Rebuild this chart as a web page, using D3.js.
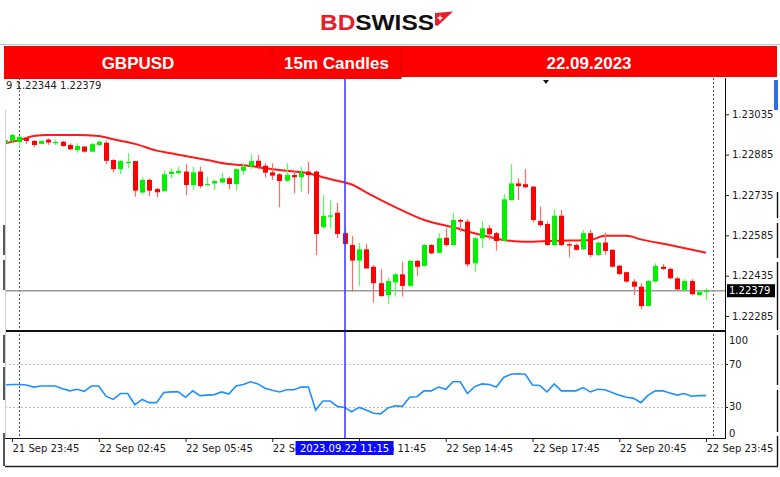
<!DOCTYPE html>
<html><head><meta charset="utf-8">
<script src="https://cdn.jsdelivr.net/npm/d3@7"></script>
<style>body{margin:0;background:#fff}svg{display:block}</style>
</head><body>
<svg id="c" width="780" height="477"></svg>
<script>
// ---------------- DATA ----------------
const symbol = "GBPUSD";
const timeframe = "15m Candles";
const dateText = "22.09.2023";
const infoText = "9 1.22344 1.22379";
const firstIndex = -1; // candle index of first value (0 = 21 Sep 23:45)
const open  = [1.22928,1.22936,1.22932,1.22947,1.22936,1.22925,1.22941,1.22928,1.22933,1.22921,1.22902,1.22915,1.22896,1.22921,1.22929,1.22865,1.22831,1.22854,1.22861,1.22744,1.22791,1.22757,1.22750,1.22813,1.22816,1.22822,1.22772,1.22822,1.22772,1.22778,1.22781,1.22797,1.22776,1.22825,1.22843,1.22862,1.22844,1.22819,1.22812,1.22788,1.22809,1.22801,1.22822,1.22822,1.22615,1.22654,1.22669,1.22593,1.22549,1.22491,1.22533,1.22468,1.22407,1.22363,1.22410,1.22440,1.22397,1.22490,1.22471,1.22549,1.22520,1.22576,1.22549,1.22642,1.22636,1.22481,1.22574,1.22611,1.22593,1.22565,1.22716,1.22778,1.22775,1.22766,1.22638,1.22627,1.22549,1.22658,1.22552,1.22549,1.22533,1.22593,1.22512,1.22558,1.22531,1.22472,1.22448,1.22413,1.22394,1.22322,1.22413,1.22468,1.22460,1.22425,1.22382,1.22415,1.22363,1.22376];
const high  = [1.22943,1.22962,1.22954,1.22951,1.22939,1.22938,1.22945,1.22941,1.22937,1.22927,1.22927,1.22917,1.22929,1.22939,1.22937,1.22868,1.22865,1.22890,1.22862,1.22801,1.22797,1.22761,1.22825,1.22834,1.22840,1.22849,1.22840,1.22840,1.22803,1.22791,1.22818,1.22803,1.22834,1.22853,1.22886,1.22884,1.22853,1.22853,1.22816,1.22853,1.22825,1.22840,1.22858,1.22825,1.22735,1.22716,1.22706,1.22611,1.22583,1.22558,1.22552,1.22475,1.22459,1.22427,1.22445,1.22487,1.22493,1.22493,1.22552,1.22552,1.22593,1.22611,1.22669,1.22648,1.22645,1.22579,1.22638,1.22623,1.22598,1.22738,1.22849,1.22797,1.22831,1.22768,1.22692,1.22636,1.22682,1.22679,1.22558,1.22555,1.22605,1.22605,1.22561,1.22593,1.22533,1.22475,1.22450,1.22422,1.22407,1.22419,1.22481,1.22478,1.22465,1.22431,1.22422,1.22422,1.22382,1.22389];
const low   = [1.22925,1.22932,1.22913,1.22925,1.22913,1.22923,1.22921,1.22921,1.22915,1.22902,1.22892,1.22892,1.22894,1.22917,1.22850,1.22818,1.22813,1.22834,1.22729,1.22739,1.22731,1.22726,1.22747,1.22797,1.22812,1.22734,1.22754,1.22760,1.22770,1.22754,1.22778,1.22756,1.22751,1.22809,1.22831,1.22831,1.22801,1.22791,1.22689,1.22784,1.22741,1.22747,1.22739,1.22512,1.22611,1.22611,1.22574,1.22549,1.22375,1.22397,1.22460,1.22335,1.22357,1.22330,1.22357,1.22357,1.22394,1.22434,1.22468,1.22515,1.22518,1.22543,1.22545,1.22598,1.22468,1.22450,1.22537,1.22568,1.22528,1.22561,1.22714,1.22716,1.22760,1.22632,1.22617,1.22547,1.22545,1.22545,1.22503,1.22528,1.22531,1.22503,1.22508,1.22512,1.22466,1.22438,1.22409,1.22363,1.22310,1.22320,1.22409,1.22456,1.22422,1.22382,1.22375,1.22363,1.22360,1.22344];
const close = [1.22939,1.22958,1.22951,1.22936,1.22921,1.22936,1.22930,1.22932,1.22917,1.22905,1.22917,1.22896,1.22924,1.22933,1.22862,1.22831,1.22861,1.22858,1.22751,1.22791,1.22751,1.22745,1.22812,1.22822,1.22824,1.22772,1.22819,1.22768,1.22776,1.22787,1.22797,1.22776,1.22831,1.22840,1.22861,1.22840,1.22818,1.22807,1.22787,1.22809,1.22801,1.22818,1.22809,1.22590,1.22657,1.22659,1.22590,1.22553,1.22491,1.22533,1.22462,1.22407,1.22359,1.22415,1.22440,1.22397,1.22490,1.22468,1.22549,1.22518,1.22574,1.22549,1.22642,1.22636,1.22477,1.22574,1.22611,1.22589,1.22564,1.22719,1.22778,1.22768,1.22764,1.22642,1.22623,1.22549,1.22658,1.22549,1.22547,1.22531,1.22593,1.22512,1.22558,1.22527,1.22468,1.22441,1.22413,1.22394,1.22322,1.22415,1.22471,1.22460,1.22425,1.22384,1.22415,1.22366,1.22375,1.22379];
const rsi   = [50.5,51,51,50.5,48.5,49.5,49.5,49.5,47,45,46.5,44.5,49.5,49.5,40,37,42.5,42.5,32,37,34,34,43.5,44,44,39,45,40.5,41,41.5,44,42,49.5,51,53.5,51.5,47.5,45.5,44,46,46,48.5,48.5,27,35.5,35.5,30.5,29.5,25.5,29.5,27,24,23.5,29,31,30.5,39,39.5,45,45,48.5,46.5,53.5,53.5,42.5,49,51.5,51,48.5,57.5,60.5,61,60.5,50.5,50,44,51.5,45,45,45,48,44,46.5,46,43.5,41,39,38,34,41,45,45,43,41,42.5,40,40.5,40.5];
const maIdx = [-1,1,3,5,9,12,14,17,20,22,24,27,30,33,35,38,41,43,45,47,49,53,57,61,64,68,71,75,80,82,85,87,91,96];
const maVal = [1.22927,1.22939,1.22954,1.22958,1.22958,1.22954,1.22942,1.22925,1.22900,1.22890,1.22880,1.22865,1.22850,1.22843,1.22834,1.22825,1.22816,1.22801,1.22788,1.22774,1.22745,1.22690,1.22642,1.22615,1.22593,1.22568,1.22561,1.22565,1.22568,1.22583,1.22583,1.22570,1.22549,1.22520];
const timeTicks  = [0,12,24,36,48,60,72,84,96];
const timeLabels = ["21 Sep 23:45","22 Sep 02:45","22 Sep 05:45","22 Sep 08:45","22 Sep 11:45","22 Sep 14:45","22 Sep 17:45","22 Sep 20:45","22 Sep 23:45"];
const daySeparators = [1,97];
const priceTicks = [1.23035,1.22885,1.22735,1.22585,1.22435,1.22285];
const rsiLabels = [100,70,30,0];
const rsiLevels = [70,30];
const lastPrice = 1.22379;
const cursorIndex = 46;
const cursorLabel = "2023.09.22 11:15";

// ---------------- LAYOUT ----------------
const svg = d3.select("#c");
const L = 5, R = 725, mainTop = 78, mainBot = 330, rsiTop = 333, rsiBot = 438;
const x = d3.scaleLinear().domain([0,96]).range([12,706]);
const y = d3.scaleLinear().domain([1.22285,1.23035]).range([316,114.3]);
const yr = d3.scaleLinear().domain([0,100]).range([439,332]);
const AX = "DejaVu Sans, Verdana, sans-serif";
const BULL = "#00f000", BEAR = "#ff0000", BULLW = "#55ff55", BEARW = "#ff6a6a";

svg.append("rect").attr("width",780).attr("height",477).attr("fill","#fff");
const defs = svg.append("defs");
defs.append("clipPath").attr("id","cm").append("rect").attr("x",L).attr("y",mainTop).attr("width",R-L).attr("height",mainBot-mainTop);
defs.append("clipPath").attr("id","cr").append("rect").attr("x",L).attr("y",rsiTop).attr("width",R-L).attr("height",rsiBot-rsiTop);

// ---- logo ----
const logo = svg.append("text").attr("x",320).attr("y",29.5)
  .attr("font-family","Liberation Sans, Arial, sans-serif").attr("font-weight","bold").attr("font-size",22.5)
  .attr("textLength",114).attr("lengthAdjust","spacingAndGlyphs");
logo.append("tspan").attr("fill","#e4202b").text("BD");
logo.append("tspan").attr("fill","#111").text("SWISS");
svg.append("polygon").attr("points","435,13 453,11.5 437.5,26 435,25").attr("fill","#e4202b");
svg.append("path").attr("d","M440,15.5v5M437.5,18h5").attr("stroke","#fff").attr("stroke-width",1.3);

svg.append("line").attr("x1",0).attr("x2",780).attr("y1",44.5).attr("y2",44.5).attr("stroke","#c8c8c8");

// ---- grid / separators ----
const g = svg.append("g");
daySeparators.forEach(i=>{
  g.append("line").attr("x1",Math.round(x(i))+0.5).attr("x2",Math.round(x(i))+0.5)
   .attr("y1",mainTop).attr("y2",rsiBot).attr("stroke","#555").attr("stroke-dasharray","2,2");
});
rsiLevels.forEach(v=>{
  g.append("line").attr("x1",L).attr("x2",R).attr("y1",Math.round(yr(v))+0.5).attr("y2",Math.round(yr(v))+0.5)
   .attr("stroke","#bdbdbd").attr("stroke-dasharray","2,2");
});
// current price line
g.append("line").attr("x1",L).attr("x2",R).attr("y1",y(lastPrice)).attr("y2",y(lastPrice))
  .attr("stroke","#9a9a9a").attr("stroke-width",1.6);

// ---- MA ----
const maPts = maIdx.map((d,k)=>[d,maVal[k]]);
svg.append("path").attr("clip-path","url(#cm)")
  .attr("d", d3.line().x(d=>x(d[0])).y(d=>y(d[1])).curve(d3.curveMonotoneX)(maPts))
  .attr("fill","none").attr("stroke","#ff1a1a").attr("stroke-width",2);

// ---- candles ----
const candles = open.map((o,k)=>({i:firstIndex+k,o,h:high[k],l:low[k],c:close[k]}));
const cg = svg.append("g").attr("clip-path","url(#cm)");
candles.forEach(d=>{
  const cx = Math.round(x(d.i));
  const up = d.c >= d.o;
  cg.append("line").attr("x1",cx+0.5).attr("x2",cx+0.5).attr("y1",y(d.h)).attr("y2",y(d.l))
    .attr("stroke",up?BULLW:BEARW).attr("stroke-width",1.2);
  const top = y(Math.max(d.o,d.c)), bot = y(Math.min(d.o,d.c));
  cg.append("rect").attr("x",cx-2).attr("width",5).attr("y",top).attr("height",Math.max(1.2,bot-top)).attr("fill",up?BULL:BEAR);
});

// ---- RSI ----
svg.append("path").attr("clip-path","url(#cr)")
  .attr("d", d3.line().x((d,k)=>x(firstIndex+k)).y(d=>yr(d))(rsi))
  .attr("fill","none").attr("stroke","#1e90ff").attr("stroke-width",1.6);

// ---- cursor ----
svg.append("line").attr("x1",Math.round(x(cursorIndex))).attr("x2",Math.round(x(cursorIndex)))
  .attr("y1",mainTop).attr("y2",rsiBot).attr("stroke","#3535ff").attr("stroke-width",1.5);

// ---- frames ----
svg.append("line").attr("x1",L).attr("x2",R).attr("y1",331).attr("y2",331).attr("stroke","#111").attr("stroke-width",2);
svg.append("line").attr("x1",R+0.5).attr("x2",R+0.5).attr("y1",mainTop).attr("y2",rsiBot+0.5).attr("stroke","#111");
svg.append("line").attr("x1",L).attr("x2",R+1).attr("y1",rsiBot+0.5).attr("y2",rsiBot+0.5).attr("stroke","#111");
svg.append("line").attr("x1",L+0.5).attr("x2",L+0.5).attr("y1",110).attr("y2",rsiBot).attr("stroke","#cfcfcf");
[[225,255],[260,290],[335,363],[367,400],[433,466]].forEach(s=>{
  svg.append("line").attr("x1",4).attr("x2",4).attr("y1",s[0]).attr("y2",s[1]).attr("stroke","#111").attr("stroke-width",1.4);
});
[[192,218],[223,258],[262,330],[335,385],[390,432],[436,466]].forEach(s=>{
  svg.append("line").attr("x1",777.5).attr("x2",777.5).attr("y1",s[0]).attr("y2",s[1]).attr("stroke","#111").attr("stroke-width",1.4);
});
svg.append("rect").attr("x",774).attr("y",80).attr("width",4).attr("height",30).attr("fill","#2f6fe0");
svg.append("line").attr("x1",5).attr("x2",778).attr("y1",466.5).attr("y2",466.5).attr("stroke","#222").attr("stroke-width",1.4);

// ---- price axis ----
const ya = svg.append("g").attr("transform",`translate(${R},0)`)
  .call(d3.axisRight(y).tickValues(priceTicks).tickSize(4).tickPadding(3).tickFormat(d3.format(".5f")));
ya.select(".domain").remove();
ya.selectAll("text").attr("font-family",AX).attr("font-size",10).attr("fill","#1a1a1a");
ya.selectAll("line").attr("stroke","#222");
// last price box
svg.append("rect").attr("x",R+2).attr("y",y(lastPrice)-6.5).attr("width",48).attr("height",13).attr("fill","#000");
svg.append("text").attr("x",R+4).attr("y",y(lastPrice)).attr("dy","0.35em")
  .attr("font-family",AX).attr("font-size",10).attr("fill","#fff").text(d3.format(".5f")(lastPrice));

// ---- rsi axis ----
rsiLabels.forEach(v=>{
  const yy = Math.min(Math.max(yr(v),340),433);
  svg.append("text").attr("x",R+4).attr("y",yy).attr("dy","0.35em")
    .attr("font-family",AX).attr("font-size",10).attr("fill","#1a1a1a").text(v);
});
rsiLevels.forEach(v=>{
  svg.append("line").attr("x1",R).attr("x2",R+3).attr("y1",Math.round(yr(v))+0.5).attr("y2",Math.round(yr(v))+0.5).attr("stroke","#222");
});

// ---- time axis ----
const xa = svg.append("g").attr("transform",`translate(0,${rsiBot})`)
  .call(d3.axisBottom(x).tickValues(timeTicks).tickSize(4).tickPadding(3).tickFormat((d,k)=>timeLabels[k]));
xa.select(".domain").remove();
xa.selectAll("text").attr("font-family",AX).attr("font-size",10).attr("fill","#1a1a1a").attr("text-anchor","start");
xa.selectAll("line").attr("stroke","#222");
// cursor label
const cl = x(cursorIndex);
svg.append("rect").attr("x",cl-49).attr("y",441).attr("width",98).attr("height",14).attr("fill","#0a0aff");
svg.append("text").attr("x",cl).attr("y",448).attr("dy","0.35em").attr("text-anchor","middle")
  .attr("font-family",AX).attr("font-size",10).attr("fill","#fff").text(cursorLabel);

// ---- header bar ----
const hb = svg.append("g");
const cells = [[4,272,79,symbol],[272,401,79,timeframe],[401,777,77,dateText]];
cells.forEach(c=>{
  hb.append("rect").attr("x",c[0]).attr("y",46).attr("width",c[1]-c[0]).attr("height",c[2]-46).attr("fill","#ff0000");
});
[272,401].forEach(xx=>hb.append("line").attr("x1",xx).attr("x2",xx).attr("y1",46).attr("y2",79).attr("stroke","#e00000"));
cells.forEach(c=>{
  hb.append("text").attr("x",(c[0]+c[1])/2).attr("y",69).attr("text-anchor","middle")
    .attr("font-family","Liberation Sans, Arial, sans-serif").attr("font-weight","bold").attr("font-size",17)
    .attr("fill","#fff").text(c[3]);
});
svg.append("polygon").attr("points","543,80 549,80 546,84").attr("fill","#111");

// info text
svg.append("text").attr("x",6).attr("y",89).attr("font-family",AX).attr("font-size",10).attr("fill","#222").text(infoText);
</script>
</body></html>
